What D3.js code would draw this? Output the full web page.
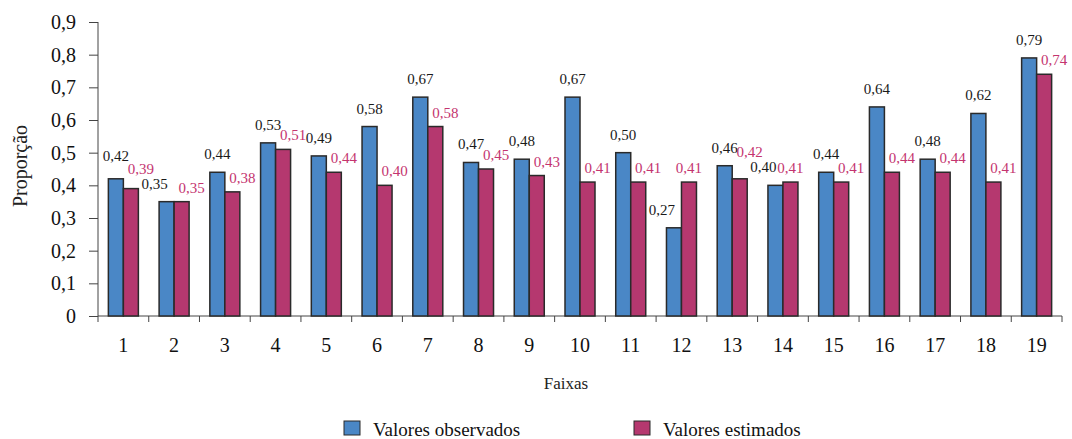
<!DOCTYPE html>
<html>
<head>
<meta charset="utf-8">
<script src="https://cdn.jsdelivr.net/npm/d3@7"></script>
<style>
  body { margin: 0; background: #fff; }
  text { font-family: "Liberation Serif", "DejaVu Serif", serif; }
</style>
</head>
<body>
<svg id="chart"></svg>
<script>
var width = 1072,
  height = 439,
  margin = {top: 22, right: 10, bottom: 123, left: 98};

var faixas = ['1', '2', '3', '4', '5', '6', '7', '8', '9', '10', '11', '12', '13', '14', '15', '16', '17', '18', '19'];
var observados = [0.42, 0.35, 0.44, 0.53, 0.49, 0.58, 0.67, 0.47, 0.48, 0.67, 0.50, 0.27, 0.46, 0.40, 0.44, 0.64, 0.48, 0.62, 0.79];
var estimados = [0.39, 0.35, 0.38, 0.51, 0.44, 0.40, 0.58, 0.45, 0.43, 0.41, 0.41, 0.41, 0.42, 0.41, 0.41, 0.44, 0.44, 0.41, 0.74];
var yTicks = [0, 0.1, 0.2, 0.3, 0.4, 0.5, 0.6, 0.7, 0.8, 0.9];
var seriesNames = ['Valores observados', 'Valores estimados'];
var colors = ['#4a87c6', '#b5386f'];
var labelColors = ['#1a1a1a', '#c4346f'];

function draw() {
  var svg, plotW, plotH, x, y, g, comma, barW = 15, labelW = 25;

  comma = function(v) { return d3.format('.2f')(v).replace('.', ','); };

  svg = d3.select('#chart')
    .attr('width', width)
    .attr('height', height);

  plotW = 1062 - margin.left;
  plotH = 316 - margin.top;

  x = d3.scaleBand().domain(faixas).range([0, plotW]).padding(0);
  y = d3.scaleLinear().domain([0, 0.9]).range([plotH, 0]);

  g = svg.append('g')
    .attr('transform', 'translate(' + margin.left + ',' + margin.top + ')');

  // Y AXIS
  var yAxis = g.append('g')
    .call(d3.axisLeft(y).tickValues(yTicks).tickSize(9).tickPadding(13)
      .tickFormat(function(d) { return d === 0 ? '0' : d3.format('.1f')(d).replace('.', ','); }));
  yAxis.select('.domain').remove();
  yAxis.selectAll('text').style('font-size', '20px').attr('fill', '#111');
  yAxis.selectAll('line').attr('stroke', '#444');

  g.append('line')
    .attr('x1', 0).attr('x2', 0)
    .attr('y1', 0).attr('y2', plotH + 6)
    .attr('stroke', '#444');

  // X AXIS
  g.append('line')
    .attr('x1', 0).attr('x2', plotW)
    .attr('y1', plotH).attr('y2', plotH)
    .attr('stroke', '#444');

  g.selectAll('.xtick')
    .data(faixas)
    .enter()
    .append('line')
    .attr('class', 'xtick')
    .attr('x1', function(d) { return x(d) + x.step(); })
    .attr('x2', function(d) { return x(d) + x.step(); })
    .attr('y1', plotH).attr('y2', plotH + 6)
    .attr('stroke', '#444');

  g.selectAll('.xlabel')
    .data(faixas)
    .enter()
    .append('text')
    .attr('class', 'xlabel')
    .attr('x', function(d) { return x(d) + x.bandwidth() / 2; })
    .attr('y', plotH + 36)
    .attr('text-anchor', 'middle')
    .style('font-size', '20px')
    .attr('fill', '#111')
    .text(function(d) { return d; });

  // AXIS TITLES
  svg.append('text')
    .attr('x', 566)
    .attr('y', 389)
    .attr('text-anchor', 'middle')
    .style('font-size', '17px')
    .attr('fill', '#222')
    .text('Faixas');

  svg.append('text')
    .attr('transform', 'translate(27,166) rotate(-90)')
    .attr('text-anchor', 'middle')
    .style('font-size', '20px')
    .attr('fill', '#222')
    .text('Proporção');

  // BARS
  var series = [observados, estimados],
      labelPos = [[], []];

  series.forEach(function(vals, s) {
    var other = series[1 - s];

    g.selectAll('.bar' + s)
      .data(vals)
      .enter()
      .append('rect')
      .attr('class', 'bar' + s)
      .attr('x', function(d, i) { return x(faixas[i]) + x.bandwidth() / 2 - barW + s * barW; })
      .attr('y', function(d) { return y(d); })
      .attr('width', barW)
      .attr('height', function(d) { return plotH - y(d); })
      .attr('fill', colors[s])
      .attr('stroke', '#2a2a2a')
      .attr('stroke-width', 1.5);

    // label of the shorter bar is pushed outward so it clears its neighbour
    vals.forEach(function(d, i) {
      var c = x(faixas[i]) + x.bandwidth() / 2,
          taller = d > other[i];
      labelPos[s][i] = {
        x: s === 0 ? c - barW / 2 + (taller ? 0 : -12) : c + barW / 2 + (taller ? 0 : 10),
        y: y(d) - (s === 0 ? 13 : 9)
      };
    });
  });

  function hits(p, q) {
    return Math.abs(p.x - q.x) < labelW && Math.abs(p.y - q.y) < 14;
  }

  // red label of group i colliding with blue label of group i+1: lift it,
  // then lift the blue label of group i too if needed
  labelPos[1].forEach(function(p, i) {
    var q = labelPos[0][i + 1], b = labelPos[0][i];
    if (q && hits(p, q)) {
      p.y = q.y - 15;
      if (hits(p, b)) b.y = p.y - 13;
    }
  });

  series.forEach(function(vals, s) {
    g.selectAll('.lbl' + s)
      .data(vals)
      .enter()
      .append('text')
      .attr('class', 'lbl' + s)
      .attr('x', function(d, i) { return labelPos[s][i].x; })
      .attr('y', function(d, i) { return labelPos[s][i].y; })
      .attr('text-anchor', 'middle')
      .style('font-size', '15px')
      .attr('fill', labelColors[s])
      .text(comma);
  });

  // LEGEND
  var legend = svg.selectAll('.legend')
    .data(seriesNames)
    .enter()
    .append('g')
    .attr('class', 'legend')
    .attr('transform', function(d, i) { return 'translate(' + (344 + i * 290) + ',421)'; });

  legend.append('rect')
    .attr('width', 16).attr('height', 14)
    .attr('fill', function(d, i) { return colors[i]; })
    .attr('stroke', '#2a2a2a')
    .attr('stroke-width', 1);

  legend.append('text')
    .attr('x', 29).attr('y', 15)
    .style('font-size', '19px')
    .attr('fill', '#111')
    .text(function(d) { return d; });
}

draw();
</script>
</body>
</html>
